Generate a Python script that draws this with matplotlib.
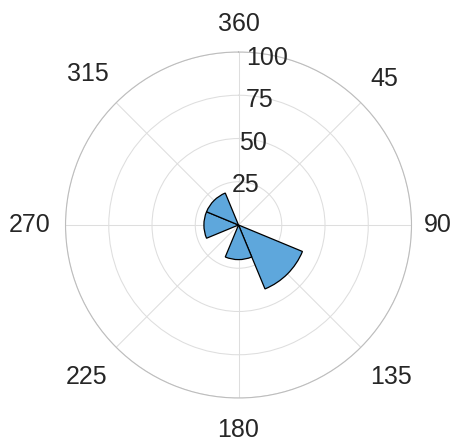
import matplotlib
matplotlib.use("Agg")
import numpy as np
import matplotlib.pyplot as plt

plt.rcParams.update({"font.family": ["Liberation Sans", "DejaVu Sans"], "font.size": 18})
TXT = "#262626"; FILL = "#5ea7dc"; GRID = "#dedede"; RIM = "#bdbdbd"

# polar histogram: bin centres (deg, clockwise from north) and bin heights
bin_deg = [0, 45, 90, 135, 180, 225, 270, 315]
counts = [0, 0, 0, 40, 20, 0, 20, 20]
theta_labels = ["360", "45", "90", "135", "180", "225", "270", "315"]
r_ticks = [25, 50, 75, 100]

# label placement (radius in data units)
label_r = [116.0, 119.4, 115.1, 124.5, 118.3, 124.1, 120.6, 123.5]

fig = plt.figure(figsize=(4.55, 4.43), dpi=100)
ax = fig.add_axes([0.144, 0.1016, 0.7604, 0.781], projection="polar")
ax.set_theta_zero_location("N")
ax.set_theta_direction(-1)

th = np.deg2rad(bin_deg)
c = np.array(counts)
keep = c > 0
ax.bar(th[keep], c[keep], width=np.deg2rad(45), bottom=0, align="center",
       color=FILL, edgecolor="black", linewidth=0.9, zorder=3)

ax.set_ylim(0, 100)
ax.set_yticks(r_ticks)
ax.set_yticklabels([])
ax.set_xticks(th)
ax.set_xticklabels([])
ax.grid(True, color=GRID, lw=0.75)
ax.spines["polar"].set_color(RIM)
ax.spines["polar"].set_linewidth(0.8)
ax.tick_params(length=0)

for t, lab, rr in zip(th, theta_labels, label_r):
    ax.text(t, rr, lab, ha="center", va="center", color=TXT, fontsize=18, clip_on=False)

for r in r_ticks:
    ax.text(np.deg2rad(9.8), r - 1.8, str(r), ha="center", va="center", color=TXT,
            fontsize=18, zorder=5)

fig.savefig("out.png", dpi=100, facecolor="white")
